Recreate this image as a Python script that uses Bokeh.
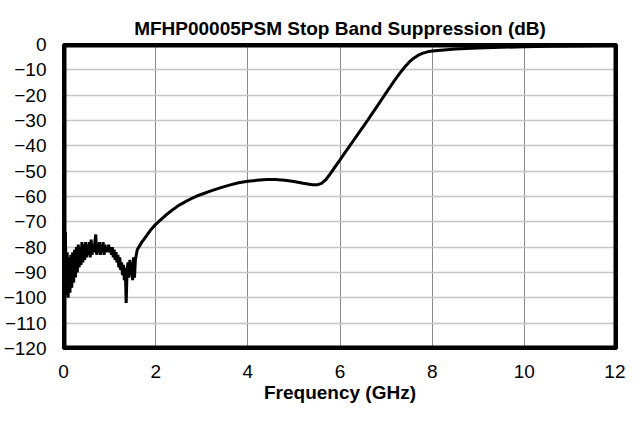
import numpy as np
from bokeh.plotting import figure
from bokeh.models import Range1d, FixedTicker, ColumnDataSource
from bokeh.embed import file_html
from bokeh.resources import INLINE

# noisy low-frequency region, 0 .. 1.58 GHz step 0.02
noise_db = [-70, -101, -74, -99, -82, -100, -84, -98, -83, -96,
            -82, -94, -81, -92, -80, -90, -79, -88, -80, -87,
            -78, -86, -79, -85, -78, -84, -79, -83, -78, -84,
            -77, -83, -79, -82, -78, -75, -83, -79, -82, -78,
            -83, -79, -82, -78, -83, -79, -82, -80, -82, -79,
            -82, -80, -83, -80, -84, -81, -85, -82, -86, -83,
            -88, -84, -89, -86, -91, -87, -93, -88, -102, -89,
            -86, -92, -85, -91, -86, -93, -84, -92, -85, -83]
noise_freq = [round(i * 0.02, 2) for i in range(len(noise_db))]

smooth_freq = [1.6, 1.7, 1.8, 1.9, 2.0, 2.1, 2.2, 2.3, 2.4, 2.5, 2.6, 2.7, 2.8, 2.9,
               3.0, 3.2, 3.4, 3.6, 3.8, 4.0, 4.2, 4.4, 4.6, 4.8, 5.0, 5.2, 5.4, 5.5,
               5.6, 5.7, 5.8, 5.9, 6.0, 6.1, 6.2, 6.3, 6.4, 6.5, 6.6, 6.7, 6.8, 6.9,
               7.0, 7.1, 7.2, 7.3, 7.4, 7.5, 7.6, 7.7, 7.8, 7.9, 8.0, 8.5, 9.0, 9.5,
               10.0, 10.5, 11.0, 11.5, 12.0]
smooth_db = [-81, -78, -75.5, -73, -71, -69.3, -67.7, -66.2, -64.8, -63.5, -62.5, -61.5, -60.6, -59.8,
             -59.1, -57.8, -56.6, -55.5, -54.6, -54.0, -53.6, -53.3, -53.3, -53.6, -54.1, -54.8, -55.4, -55.4,
             -54.8, -53.2, -50.8, -48.1, -45.5, -42.9, -40.3, -37.7, -35.1, -32.5, -29.9, -27.2, -24.5, -21.8,
             -19.1, -16.4, -13.8, -11.3, -9.0, -7.0, -5.4, -4.2, -3.4, -2.9, -2.6, -1.8, -1.4, -1.1,
             -0.9, -0.7, -0.6, -0.5, -0.4]

x_ticks = [0, 2, 4, 6, 8, 10, 12]
y_ticks = [0, -10, -20, -30, -40, -50, -60, -70, -80, -90, -100, -110, -120]

freq = noise_freq + smooth_freq
db = noise_db + smooth_db
src = ColumnDataSource(dict(f=freq, db=db))

FONT = "Liberation Sans"

p = figure(frame_width=553, frame_height=304, output_backend="svg", toolbar_location=None,
           x_range=Range1d(x_ticks[0], x_ticks[-1]), y_range=Range1d(y_ticks[-1], y_ticks[0]),
           title="MFHP00005PSM Stop Band Suppression (dB)",
           min_border_left=63, min_border_right=9, min_border_top=44, min_border_bottom=0)

p.title.align = "center"
p.title.vertical_align = "middle"
p.title.text_font = FONT
p.title.text_font_size = "19px"
p.title.text_font_style = "bold"
p.title.text_color = "black"

p.outline_line_color = "#000000"
p.outline_line_width = 3
p.outline_line_alpha = 1.0

p.xaxis.ticker = FixedTicker(ticks=x_ticks)
p.yaxis.ticker = FixedTicker(ticks=y_ticks)
for ax in (p.xaxis, p.yaxis):
    ax.axis_line_color = None
    ax.major_tick_line_color = None
    ax.minor_tick_line_color = None
    ax.major_tick_out = 0
    ax.major_tick_in = 0
    ax.minor_tick_out = 0
    ax.major_label_text_font = FONT
    ax.major_label_text_font_size = "19px"
    ax.major_label_text_color = "black"
p.yaxis.major_label_standoff = 17
p.xaxis.major_label_standoff = 16

p.xaxis.axis_label = "Frequency (GHz)"
p.xaxis.axis_label_text_font = FONT
p.xaxis.axis_label_text_font_size = "19px"
p.xaxis.axis_label_text_font_style = "bold"
p.xaxis.axis_label_text_color = "black"
p.xaxis.axis_label_standoff = 1

p.xgrid.grid_line_color = "#8a8a8a"
p.xgrid.grid_line_width = 1
p.ygrid.grid_line_color = "#c4c4c4"
p.ygrid.grid_line_width = 1.5

p.line("f", "db", source=src, line_color="black", line_width=3)

# plot-area frame drawn as a glyph on the range bounds (half of it clipped by the frame)
p.quad(left=[x_ticks[0]], right=[x_ticks[-1]], bottom=[y_ticks[-1]], top=[y_ticks[0]],
       fill_color=None, line_color="black", line_width=6)

open("out.html", "w").write(file_html(p, INLINE))
